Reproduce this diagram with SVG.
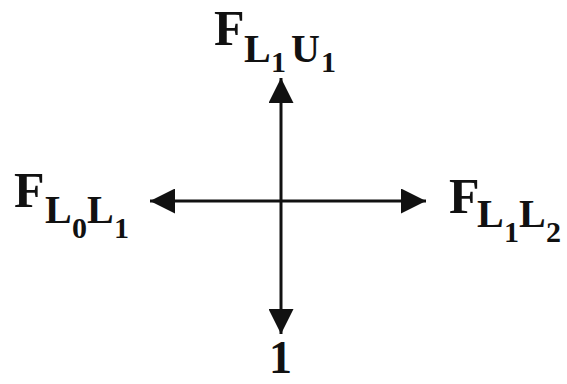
<svg xmlns="http://www.w3.org/2000/svg" width="567" height="384" viewBox="0 0 567 384">
<style>
.t{font-family:"Liberation Serif","DejaVu Serif",serif;font-weight:bold;fill:#111}
.b{font-size:50px}.s{font-size:40px}.ss{font-size:30px}
.ln{stroke:#111;stroke-width:3;fill:none}
</style>
<defs>
<marker id="ah" viewBox="0 0 10 10" refX="10" refY="5" markerWidth="25" markerHeight="25" markerUnits="userSpaceOnUse" orient="auto">
<path d="M0,0 L10,5 L0,10 Z" fill="#111"/>
</marker>
</defs>
<rect width="567" height="384" fill="#fff"/>
<g id="connectors">
<line class="ln" x1="281" y1="201" x2="281" y2="78" marker-end="url(#ah)"/>
<line class="ln" x1="281" y1="201" x2="281" y2="334" marker-end="url(#ah)"/>
<line class="ln" x1="281" y1="201" x2="150" y2="201" marker-end="url(#ah)"/>
<line class="ln" x1="281" y1="201" x2="426" y2="201" marker-end="url(#ah)"/>
</g>
<g id="top">
<text class="t"><tspan class="b" x="214" y="45">F</tspan><tspan class="s" x="244" y="62">L</tspan><tspan class="ss" x="271" y="72">1</tspan><tspan class="s" x="291" y="62">U</tspan><tspan class="ss" x="321" y="72">1</tspan></text>
</g>
<g id="left">
<text class="t"><tspan class="b" x="14" y="207">F</tspan><tspan class="s" x="45" y="223">L</tspan><tspan class="ss" x="72" y="238">0</tspan><tspan class="s" x="87" y="223">L</tspan><tspan class="ss" x="114" y="238">1</tspan></text>
</g>
<g id="right">
<text class="t"><tspan class="b" x="449" y="213">F</tspan><tspan class="s" x="477" y="227">L</tspan><tspan class="ss" x="504" y="242">1</tspan><tspan class="s" x="519" y="227">L</tspan><tspan class="ss" x="546" y="242">2</tspan></text>
</g>
<g id="bottom">
<text class="t" x="269" y="373" style="font-size:46px">1</text>
</g>
</svg>
